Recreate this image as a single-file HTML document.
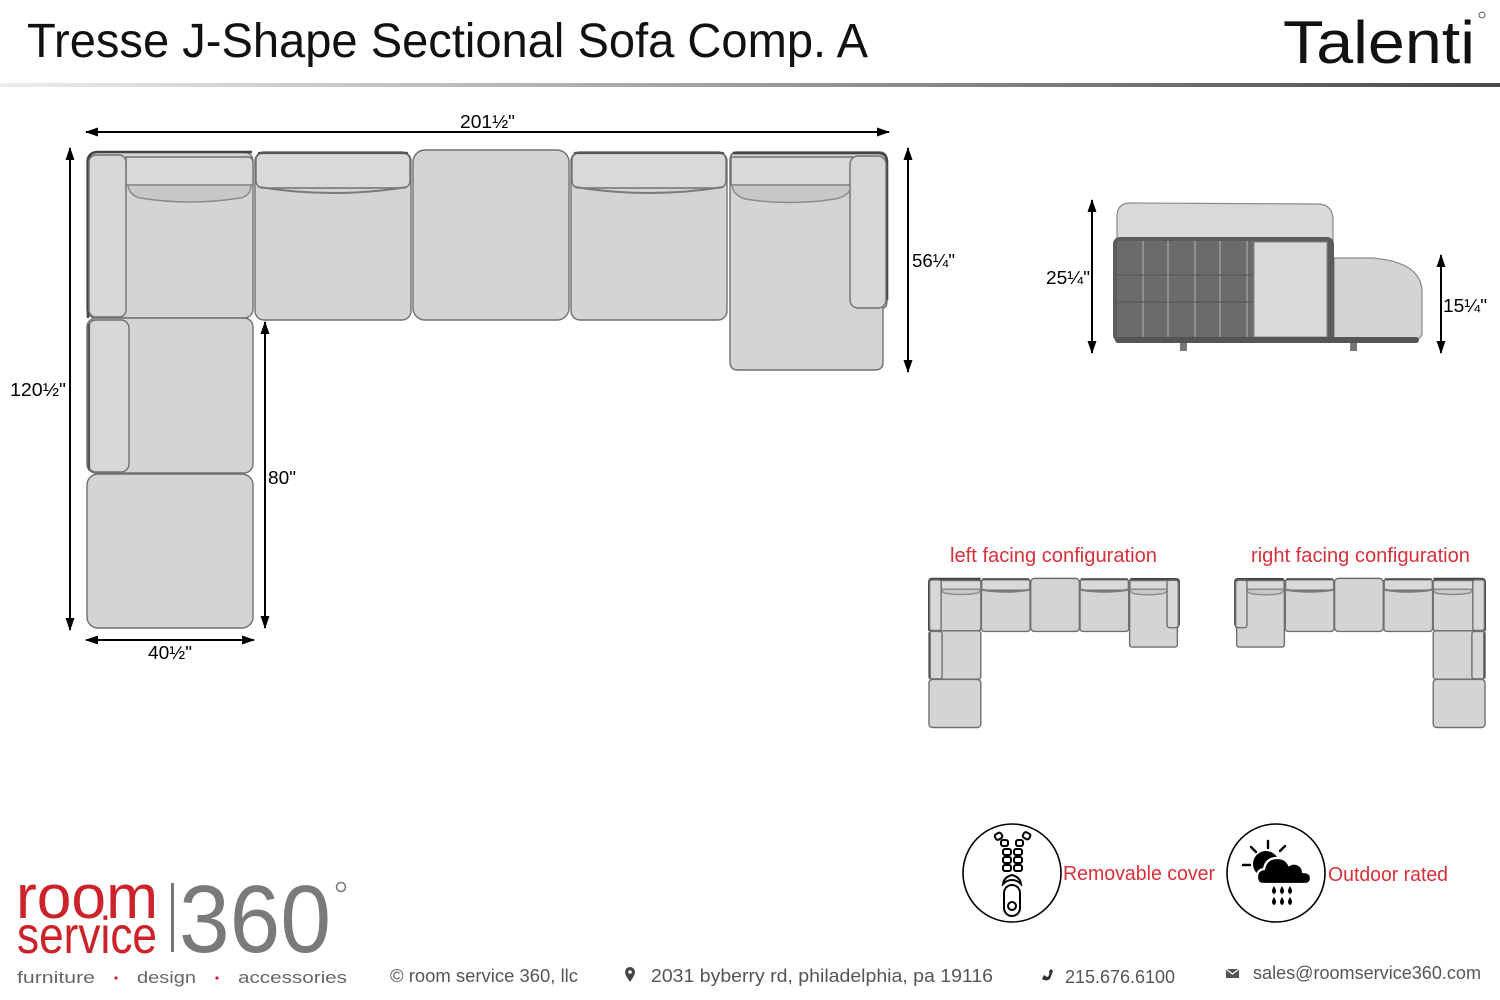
<!DOCTYPE html>
<html><head><meta charset="utf-8"><style>
html,body{margin:0;padding:0;background:#fff;}
svg{display:block;}
text{font-family:"Liberation Sans",sans-serif;}
</style></head><body>
<svg width="1500" height="1000" viewBox="0 0 1500 1000" xmlns="http://www.w3.org/2000/svg">
<defs>
<linearGradient id="hl" x1="0" y1="0" x2="1" y2="0">
<stop offset="0" stop-color="#ececec"/><stop offset="0.6" stop-color="#8c8c8c"/><stop offset="1" stop-color="#4a4a4a"/>
</linearGradient>
<marker id="ar" markerUnits="userSpaceOnUse" markerWidth="13" markerHeight="9" refX="12" refY="4.5" orient="auto-start-reverse">
<path d="M0,0 L13,4.5 L0,9 Z" fill="#000"/>
</marker>
<g id="sofa" fill="#d4d4d4" stroke="#707070" stroke-width="1.4">
 <!-- piece 1 corner -->
 <rect x="87" y="152" width="166" height="166" rx="9" vector-effect="non-scaling-stroke"/>
 <path d="M88 318 L88 162 Q88 152 98 152 L252 152" fill="none" stroke="#444" stroke-width="2.6" vector-effect="non-scaling-stroke"/>
 <path d="M126 157 L248 157 Q253 157 253 163 L253 185 L126 185 Z" fill="#d9d9d9" vector-effect="non-scaling-stroke"/>
 <path d="M128 185 L251 185 Q251 196 240 198 Q190 206 140 198 Q129 195 128 185 Z" fill="#c8c8c8" stroke="#8a8a8a" vector-effect="non-scaling-stroke"/>
 <rect x="89" y="155" width="37" height="162" rx="7" fill="#d7d7d7" vector-effect="non-scaling-stroke"/>
 <!-- piece 2 -->
 <rect x="255" y="152" width="156" height="168" rx="9" vector-effect="non-scaling-stroke"/>
 <rect x="256" y="153" width="154" height="35" rx="7" fill="#d9d9d9" vector-effect="non-scaling-stroke"/>
 <path d="M259 187 Q333 199 407 187" fill="none" stroke="#7a7a7a" stroke-width="2" vector-effect="non-scaling-stroke"/>
 <path d="M258 153 L408 153" stroke="#555" stroke-width="2.2" vector-effect="non-scaling-stroke"/>
 <!-- piece 3 -->
 <rect x="413" y="150" width="156" height="170" rx="12" vector-effect="non-scaling-stroke"/>
 <!-- piece 4 -->
 <rect x="571" y="152" width="156" height="168" rx="9" vector-effect="non-scaling-stroke"/>
 <rect x="572" y="153" width="154" height="35" rx="7" fill="#d9d9d9" vector-effect="non-scaling-stroke"/>
 <path d="M575 187 Q649 199 723 187" fill="none" stroke="#7a7a7a" stroke-width="2" vector-effect="non-scaling-stroke"/>
 <path d="M574 153 L724 153" stroke="#555" stroke-width="2.2" vector-effect="non-scaling-stroke"/>
 <!-- piece 5 chaise -->
 <path d="M730 160 Q730 152 738 152 L879 152 Q887 152 887 160 L887 300 Q887 308 883 308 L883 362 Q883 370 875 370 L738 370 Q730 370 730 362 Z" vector-effect="non-scaling-stroke"/>
 <path d="M733 153 L878 153 Q887 153 887 162 L887 300" fill="none" stroke="#444" stroke-width="2.6" vector-effect="non-scaling-stroke"/>
 <path d="M731 157 L852 157 L852 185 L731 185 Z" fill="#d9d9d9" vector-effect="non-scaling-stroke"/>
 <path d="M732 185 L852 185 Q850 196 835 199 Q790 206 745 199 Q733 195 732 185 Z" fill="#c8c8c8" stroke="#8a8a8a" vector-effect="non-scaling-stroke"/>
 <rect x="850" y="156" width="36" height="152" rx="8" fill="#d7d7d7" vector-effect="non-scaling-stroke"/>
 <!-- piece 6 -->
 <rect x="87" y="318" width="166" height="155" rx="9" vector-effect="non-scaling-stroke"/>
 <rect x="88" y="320" width="41" height="152" rx="8" fill="#d7d7d7" vector-effect="non-scaling-stroke"/>
 <path d="M89 470 L89 324" stroke="#555" stroke-width="2.2" vector-effect="non-scaling-stroke"/>
 <!-- piece 7 -->
 <rect x="87" y="474" width="166" height="154" rx="11" vector-effect="non-scaling-stroke"/>
</g>
</defs>

<!-- Header -->
<text x="27" y="57" font-size="48" fill="#111" textLength="841" lengthAdjust="spacingAndGlyphs">Tresse J-Shape Sectional Sofa Comp. A</text>
<rect x="0" y="83" width="1500" height="4" fill="url(#hl)"/>
<text x="1283" y="63" font-size="60" fill="#111" textLength="192" lengthAdjust="spacingAndGlyphs">Talenti</text>
<circle cx="1482" cy="15" r="3" fill="none" stroke="#333" stroke-width="0.8"/>

<!-- Main sofa -->
<use href="#sofa"/>

<!-- Dimensions -->
<g stroke="#000" stroke-width="2" fill="none">
<line x1="86" y1="132" x2="889" y2="132" marker-start="url(#ar)" marker-end="url(#ar)"/>
<line x1="70" y1="148" x2="70" y2="630" marker-start="url(#ar)" marker-end="url(#ar)"/>
<line x1="908" y1="148" x2="908" y2="372" marker-start="url(#ar)" marker-end="url(#ar)"/>
<line x1="265" y1="322" x2="265" y2="628" marker-start="url(#ar)" marker-end="url(#ar)"/>
<line x1="86" y1="640" x2="254" y2="640" marker-start="url(#ar)" marker-end="url(#ar)"/>
<line x1="1092" y1="200" x2="1092" y2="353" marker-start="url(#ar)" marker-end="url(#ar)"/>
<line x1="1441" y1="255" x2="1441" y2="353" marker-start="url(#ar)" marker-end="url(#ar)"/>
</g>
<g font-size="18" fill="#000">
<text x="460" y="128" textLength="55" lengthAdjust="spacingAndGlyphs">201½"</text>
<text x="912" y="267" textLength="43" lengthAdjust="spacingAndGlyphs">56¼"</text>
<text x="10" y="396" textLength="56" lengthAdjust="spacingAndGlyphs">120½"</text>
<text x="268" y="484" textLength="28" lengthAdjust="spacingAndGlyphs">80"</text>
<text x="148" y="659" textLength="44" lengthAdjust="spacingAndGlyphs">40½"</text>
<text x="1046" y="284" textLength="44" lengthAdjust="spacingAndGlyphs">25¼"</text>
<text x="1443" y="312" textLength="44" lengthAdjust="spacingAndGlyphs">15¼"</text>
</g>

<!-- Side view -->
<g>
<path d="M1117 240 L1117 216 Q1117 203 1131 203 L1319 204 Q1333 205 1333 220 L1333 240 Z" fill="#d9d9d9" stroke="#8a8a8a" stroke-width="1.2"/>
<path d="M1334 258 L1372 258 Q1422 262 1422 292 L1422 332 Q1422 340 1412 340 L1334 340 Z" fill="#d4d4d4" stroke="#8a8a8a" stroke-width="1.2"/>
<rect x="1113" y="237" width="221" height="105" rx="7" fill="#5c5c5c"/>
<rect x="1117" y="241" width="137" height="96" fill="#6b6b6b"/>
<rect x="1254" y="242" width="73" height="95" fill="#d9d9d9" stroke="#888" stroke-width="1"/>
<g stroke="#bdbdbd" stroke-width="0.9">
<line x1="1143" y1="241" x2="1143" y2="337"/><line x1="1168" y1="241" x2="1168" y2="337"/>
<line x1="1195" y1="241" x2="1195" y2="337"/><line x1="1220" y1="241" x2="1220" y2="337"/>
<line x1="1247" y1="241" x2="1247" y2="337"/>
</g>
<g stroke="#555" stroke-width="1"><line x1="1117" y1="275" x2="1253" y2="275"/><line x1="1117" y1="302" x2="1253" y2="302"/></g>
<rect x="1115" y="337" width="304" height="6" rx="3" fill="#555"/>
<rect x="1180" y="343" width="7" height="8" fill="#777"/>
<rect x="1350" y="343" width="7" height="8" fill="#777"/>
</g>

<!-- Configurations -->
<text x="950" y="562" font-size="20" fill="#d8303a" textLength="207" lengthAdjust="spacingAndGlyphs">left facing configuration</text>
<text x="1251" y="562" font-size="20" fill="#d8303a" textLength="219" lengthAdjust="spacingAndGlyphs">right facing configuration</text>
<use href="#sofa" transform="translate(929,579) scale(0.312) translate(-87,-152)"/>
<use href="#sofa" transform="translate(1485,579) scale(-0.312,0.312) translate(-87,-152)"/>

<!-- Icons -->
<circle cx="1012" cy="873" r="49" fill="none" stroke="#000" stroke-width="1.6"/>
<g fill="none" stroke="#000" stroke-width="2">
<rect x="995" y="833" width="7" height="6" rx="2" transform="rotate(-30 999 836)"/>
<rect x="1023" y="833" width="7" height="6" rx="2" transform="rotate(30 1027 836)"/>
<rect x="1001" y="840" width="7" height="6" rx="2"/>
<rect x="1016" y="840" width="7" height="6" rx="2"/>
<rect x="1003" y="849" width="8" height="6" rx="2"/><rect x="1014" y="849" width="8" height="6" rx="2"/>
<rect x="1003" y="857" width="8" height="6" rx="2"/><rect x="1014" y="857" width="8" height="6" rx="2"/>
<rect x="1003" y="865" width="8" height="6" rx="2"/><rect x="1014" y="865" width="8" height="6" rx="2"/>
<path d="M1003 884 Q1004 877 1012 875 Q1020 877 1021 884 Q1017 880 1012 880 Q1007 880 1003 884 Z"/>
<rect x="1004" y="885" width="16" height="31" rx="8"/>
<circle cx="1012" cy="906" r="4"/>
</g>
<text x="1063" y="880" font-size="20" fill="#d8303a" textLength="152" lengthAdjust="spacingAndGlyphs">Removable cover</text>

<circle cx="1276" cy="873" r="49" fill="none" stroke="#000" stroke-width="1.6"/>
<g stroke="#000" stroke-width="2.4" stroke-linecap="round">
<line x1="1268" y1="841" x2="1268" y2="848"/>
<line x1="1251" y1="847" x2="1256" y2="852"/>
<line x1="1285" y1="846" x2="1280" y2="851"/>
<line x1="1243" y1="865" x2="1250" y2="865"/>
</g>
<circle cx="1266" cy="864" r="13" fill="#000"/>
<path d="M1263 884 Q1257 884 1257 877 Q1257 870 1264 869 Q1266 858 1277 858 Q1286 858 1289 865 Q1294 862 1299 865 Q1303 868 1303 872 Q1311 872 1311 878 Q1311 884 1305 884 Z" fill="#000" stroke="#fff" stroke-width="2.2"/>
<g fill="#000">
<path d="M1274 886 q-4 6 0 8 q4 -2 0 -8z"/><path d="M1282 886 q-4 6 0 8 q4 -2 0 -8z"/><path d="M1290 886 q-4 6 0 8 q4 -2 0 -8z"/>
<path d="M1274 897 q-4 6 0 8 q4 -2 0 -8z"/><path d="M1282 897 q-4 6 0 8 q4 -2 0 -8z"/><path d="M1290 897 q-4 6 0 8 q4 -2 0 -8z"/>
</g>
<text x="1328" y="881" font-size="20" fill="#d8303a" textLength="120" lengthAdjust="spacingAndGlyphs">Outdoor rated</text>

<!-- Footer logo -->
<text x="16" y="918" font-size="62" fill="#cc2229" textLength="142" lengthAdjust="spacingAndGlyphs">room</text>
<text x="17" y="953" font-size="52" fill="#cc2229" textLength="140" lengthAdjust="spacingAndGlyphs">service</text>
<rect x="171" y="883" width="3" height="69" fill="#777"/>
<text x="179" y="952" font-size="96" fill="#7a7a7a" textLength="152" lengthAdjust="spacingAndGlyphs">360</text>
<circle cx="341" cy="887" r="4.5" fill="none" stroke="#777" stroke-width="1.5"/>
<g font-size="17" fill="#666">
<text x="17" y="983" textLength="78" lengthAdjust="spacingAndGlyphs">furniture</text>
<text x="137" y="983" textLength="59" lengthAdjust="spacingAndGlyphs">design</text>
<text x="238" y="983" textLength="109" lengthAdjust="spacingAndGlyphs">accessories</text>
</g>
<circle cx="116" cy="978" r="1.6" fill="#cc2229"/>
<circle cx="217" cy="978" r="1.6" fill="#cc2229"/>

<!-- Footer contact -->
<g font-size="18" fill="#555">
<text x="390" y="982" textLength="188" lengthAdjust="spacingAndGlyphs">© room service 360, llc</text>
<text x="651" y="982" textLength="342" lengthAdjust="spacingAndGlyphs">2031 byberry rd, philadelphia, pa 19116</text>
<text x="1065" y="983" textLength="110" lengthAdjust="spacingAndGlyphs">215.676.6100</text>
<text x="1253" y="979" textLength="228" lengthAdjust="spacingAndGlyphs">sales@roomservice360.com</text>
</g>
<path d="M630 982 Q625 975 625 972 A5 5 0 0 1 635 972 Q635 975 630 982 Z" fill="#444"/>
<circle cx="630" cy="972" r="1.8" fill="#fff"/>
<path d="M1042 979 Q1046 982 1050 979 L1053 971 L1051 969 L1049 971 Q1050 976 1047 977 L1044 975 Z" fill="#333"/>
<rect x="1226" y="969" width="13" height="9" fill="#555"/>
<path d="M1226 969 L1232.5 974 L1239 969" fill="none" stroke="#fff" stroke-width="1.2"/>
</svg>
</body></html>
